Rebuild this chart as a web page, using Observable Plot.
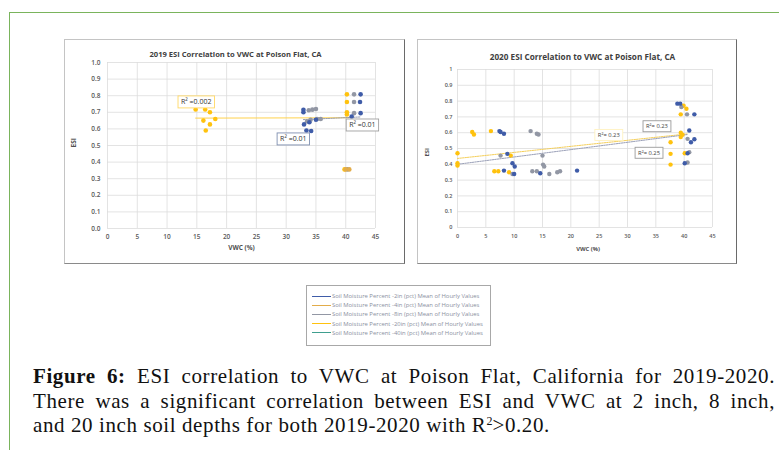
<!DOCTYPE html>
<html>
<head>
<meta charset="utf-8">
<script src="https://cdn.jsdelivr.net/npm/d3@7"></script>
<script src="https://cdn.jsdelivr.net/npm/@observablehq/plot@0.6"></script>
<style>
  html, body { margin: 0; padding: 0; background: #fff; }
  #fig { position: relative; width: 779px; height: 450px; overflow: hidden; background: #fff; }
  #frame { position: absolute; left: 9px; top: 12px; width: 900px; height: 600px;
           border-left: 1.5px solid #7ab45c; border-top: 1.5px solid #7ab45c; }
  .chart { position: absolute; background: #fff; border: 1px solid #c4c4c4;
           border-right: 1.5px solid #6a6a6a; border-bottom: 1.5px solid #8a8a8a; }
  .chart svg { display: block; overflow: visible; }
  #legend { position: absolute; left: 306px; top: 285px; width: 183px; height: 59px;
            border: 1px solid #a8a8a8; background: #fff; font-family: "Open Sans", sans-serif; }
  .lrow { position: absolute; left: 5px; height: 8px; display: flex; align-items: center; }
  .lline { width: 19px; height: 0; border-top: 1.3px solid #000; margin-right: 1px; }
  .ltext { font-size: 5.9px; color: #8a90a0; white-space: nowrap; }
  .cap { position: absolute; left: 33px; width: 742px; font-family: "Liberation Serif", "Times New Roman", serif;
         font-size: 21px; line-height: 20px; letter-spacing: 0.6px; color: #111; white-space: nowrap; }
  .just { text-align: justify; text-align-last: justify; white-space: normal; }
  .cap sup { font-size: 12px; line-height: 0; vertical-align: 7px; letter-spacing: 0; }
</style>
</head>
<body>
<div id="fig">
  <div id="frame"></div>
  <div class="chart" id="c1" style="left:64px; top:39px;"></div>
  <div class="chart" id="c2" style="left:417px; top:39px;"></div>
  <div id="legend"></div>
  <div class="cap just" style="top:366px;"><b>Figure 6:</b> ESI correlation to VWC at Poison Flat, California for 2019-2020.</div>
  <div class="cap just" style="top:390.5px;">There was a significant correlation between ESI and VWC at 2 inch, 8 inch,</div>
  <div class="cap" style="top:415px;">and 20 inch soil depths for both 2019-2020 with R<sup>2</sup>&gt;0.20.</div>
</div>
<script>
// ---------- categories / legend ----------
const seriesNames = ["2in", "4in", "8in", "20in", "40in"];
const seriesColors = ["#3f5ca8", "#e2ac4a", "#9297a4", "#ffc20e", "#3f9f8f"];
const legendLabels = [
  "Soil Moisture Percent -2in (pct) Mean of Hourly Values",
  "Soil Moisture Percent -4in (pct) Mean of Hourly Values",
  "Soil Moisture Percent -8in (pct) Mean of Hourly Values",
  "Soil Moisture Percent -20in (pct) Mean of Hourly Values",
  "Soil Moisture Percent -40in (pct) Mean of Hourly Values"
];

// ---------- ticks ----------
const ticksX = [0, 5, 10, 15, 20, 25, 30, 35, 40, 45];
const ticksY = [0, 0.1, 0.2, 0.3, 0.4, 0.5, 0.6, 0.7, 0.8, 0.9, 1.0];
const tickLabelsY2019 = ["0.0","0.1","0.2","0.3","0.4","0.5","0.6","0.7","0.8","0.9","1.0"];
const tickLabelsY2020 = ["0","0.1","0.2","0.3","0.4","0.5","0.6","0.7","0.8","0.9","1"];

// ---------- 2019 data ----------
const vwc2019_2in  = [32.9, 32.9, 33.0, 33.4, 34.2, 33.9, 35.0, 42.5, 42.4, 42.5, 41.0];
const esi2019_2in  = [0.715, 0.700, 0.627, 0.590, 0.587, 0.640, 0.655, 0.808, 0.762, 0.695, 0.675];
const vwc2019_4in  = [40.0, 40.6];
const esi2019_4in  = [0.356, 0.356];
const vwc2019_8in  = [33.8, 34.4, 35.0, 33.5, 34.1, 35.2, 35.8, 41.4, 41.4, 41.4, 40.3];
const esi2019_8in  = [0.712, 0.716, 0.720, 0.645, 0.655, 0.660, 0.660, 0.808, 0.762, 0.695, 0.356];
const vwc2019_20in = [14.8, 16.4, 17.2, 16.1, 17.2, 18.1, 16.5, 40.2, 40.2, 40.2, 40.2, 39.8];
const esi2019_20in = [0.717, 0.717, 0.700, 0.650, 0.627, 0.660, 0.590, 0.808, 0.762, 0.700, 0.687, 0.356];

// trendline end points 2019
const trend2019_20in_vwc = [14.8, 40.5];
const trend2019_20in_esi = [0.665, 0.667];
const trend2019_2in_vwc  = [32.9, 42.5];
const trend2019_2in_esi  = [0.656, 0.672];

// R² labels 2019
const r2Text2019 = ["R² =0.002", "R² =0.01", "R² =0.01"];
const r2Vwc2019  = [14.9, 31.2, 42.8];
const r2Esi2019  = [0.761, 0.538, 0.622];
const r2Box2019  = ["#ffd966", "#7f8fb0", "#a0a0a0"];

// ---------- 2020 data ----------
const vwc2020_2in  = [7.4, 7.6, 8.2, 8.8, 9.7, 10.1, 8.2, 10.0, 14.6, 21.1, 38.8, 39.3, 41.8, 40.9, 41.8, 40.1, 40.6, 41.2];
const esi2020_2in  = [0.610, 0.604, 0.593, 0.466, 0.407, 0.386, 0.360, 0.339, 0.343, 0.360, 0.784, 0.784, 0.716, 0.614, 0.559, 0.407, 0.470, 0.540];
const vwc2020_8in  = [7.6, 9.7, 12.9, 14.0, 14.3, 15.0, 15.1, 15.3, 13.2, 14.0, 16.2, 17.6, 18.1, 40.5, 40.6, 40.9, 40.6, 39.5];
const esi2020_8in  = [0.455, 0.339, 0.610, 0.593, 0.589, 0.455, 0.398, 0.386, 0.356, 0.356, 0.339, 0.350, 0.356, 0.716, 0.561, 0.477, 0.411, 0.763];
const vwc2020_20in = [0, 0, 0, 2.6, 2.9, 5.9, 6.5, 7.2, 9.1, 9.4, 39.9, 40.4, 39.4, 39.4, 39.4, 37.6, 37.6, 37.6, 40.1, 39.7];
const esi2020_20in = [0.470, 0.407, 0.392, 0.604, 0.589, 0.610, 0.356, 0.356, 0.350, 0.455, 0.771, 0.752, 0.716, 0.600, 0.572, 0.540, 0.466, 0.398, 0.470, 0.587];

// trendline end points 2020
const trend2020_20in_vwc = [0, 40.5];
const trend2020_20in_esi = [0.437, 0.592];
const trend2020_8in_vwc  = [0, 40.5];
const trend2020_8in_esi  = [0.400, 0.588];

// R² labels 2020
const r2Text2020 = ["R²= 0.23", "R²= 0.23", "R²= 0.25"];
const r2Vwc2020  = [26.7, 35.2, 33.8];
const r2Esi2020  = [0.585, 0.640, 0.472];
const r2Box2020  = ["#fff2c0", "#9a9a9a", "#9a9a9a"];

// ---------- helpers ----------
function rows(year, name, xs, ys) { return xs.map((x, i) => ({year, series: name, vwc: x, esi: ys[i]})); }
function line(xs, ys) { return xs.map((x, i) => ({vwc: x, esi: ys[i]})); }
function labels(t, xs, ys) { return t.map((s, i) => ({text: s, vwc: xs[i], esi: ys[i]})); }

const data2019 = [
  ...rows(2019, "20in", vwc2019_20in, esi2019_20in),
  ...rows(2019, "8in", vwc2019_8in, esi2019_8in),
  ...rows(2019, "4in", vwc2019_4in, esi2019_4in),
  ...rows(2019, "2in", vwc2019_2in, esi2019_2in)
];
const data2020 = [
  ...rows(2020, "20in", vwc2020_20in, esi2020_20in),
  ...rows(2020, "8in", vwc2020_8in, esi2020_8in),
  ...rows(2020, "2in", vwc2020_2in, esi2020_2in)
];

function boxLabels(svg, cls, colors) {
  const g = svg.querySelector("g." + cls);
  if (!g) return;
  const texts = g.querySelectorAll("text");
  texts.forEach((t, i) => {
    const b = t.getBBox();
    const r = document.createElementNS("http://www.w3.org/2000/svg", "rect");
    const tr = t.getAttribute("transform");
    if (tr) r.setAttribute("transform", tr);
    r.setAttribute("x", b.x - 3); r.setAttribute("y", b.y - 1.5);
    r.setAttribute("width", b.width + 6); r.setAttribute("height", b.height + 3);
    r.setAttribute("fill", "#fff"); r.setAttribute("stroke", colors[i]); r.setAttribute("stroke-width", 0.9);
    t.parentNode.insertBefore(r, t);
  });
}

const color = {domain: seriesNames, range: seriesColors};

// ---------- chart 1 (2019) ----------
const p1 = Plot.plot({
  width: 339, height: 223,
  marginLeft: 42, marginRight: 29, marginTop: 22, marginBottom: 35,
  x: {domain: [0, 45], ticks: ticksX, tickSize: 0, tickPadding: 6, label: null},
  y: {domain: [0, 1], ticks: ticksY, tickSize: 0, tickPadding: 7, label: null,
      tickFormat: d => tickLabelsY2019[ticksY.indexOf(d)]},
  color,
  style: {fontFamily: "Open Sans, sans-serif", fontSize: "6.5px", fontWeight: 600, color: "#595959", background: "#fff", overflow: "visible"},
  marks: [
    Plot.ruleX(ticksX, {stroke: "#dcdcdc", strokeWidth: 0.8}),
    Plot.ruleY(ticksY, {stroke: "#dcdcdc", strokeWidth: 0.8}),
    Plot.line(line(trend2019_20in_vwc, trend2019_20in_esi), {x: "vwc", y: "esi", stroke: "#ffd24d", strokeWidth: 1}),
    Plot.line(line(trend2019_2in_vwc, trend2019_2in_esi), {x: "vwc", y: "esi", stroke: "#8c93a8", strokeWidth: 0.9, strokeDasharray: "1.5,1"}),
    Plot.dot(data2019, {x: "vwc", y: "esi", fill: "series", r: 2.3}),
    Plot.text(labels(r2Text2019, r2Vwc2019, r2Esi2019), {x: "vwc", y: "esi", text: "text", fontSize: 7, fontWeight: 400, fill: "#333", className: "r2a"}),
    Plot.text(["2019 ESI Correlation to VWC at Poison Flat, CA"], {frameAnchor: "top", dx: -6, dy: -11, fontSize: 7.6, fontWeight: 700, fill: "#404040"}),
    Plot.text(["VWC (%)"], {frameAnchor: "bottom", dy: 21, fontSize: 6.5, fontWeight: 700, fill: "#505050"}),
    Plot.text(["ESI"], {frameAnchor: "left", dx: -34, dy: 2, rotate: -90, fontSize: 6.5, fontWeight: 700, fill: "#505050"})
  ]
});
document.getElementById("c1").appendChild(p1);
boxLabels(p1, "r2a", r2Box2019);

// ---------- chart 2 (2020) ----------
const p2 = Plot.plot({
  width: 318, height: 223,
  marginLeft: 39, marginRight: 24, marginTop: 29, marginBottom: 36,
  x: {domain: [0, 45], ticks: ticksX, tickSize: 0, tickPadding: 7, label: null},
  y: {domain: [0, 1], ticks: ticksY, tickSize: 0, tickPadding: 5, label: null,
      tickFormat: d => tickLabelsY2020[ticksY.indexOf(d)]},
  color,
  style: {fontFamily: "Open Sans, sans-serif", fontSize: "5.5px", fontWeight: 600, color: "#595959", background: "#fff", overflow: "visible"},
  marks: [
    Plot.ruleX(ticksX, {stroke: "#dcdcdc", strokeWidth: 0.8}),
    Plot.ruleY(ticksY, {stroke: "#dcdcdc", strokeWidth: 0.8}),
    Plot.line(line(trend2020_20in_vwc, trend2020_20in_esi), {x: "vwc", y: "esi", stroke: "#f5cf5a", strokeWidth: 1, strokeDasharray: "1.5,1"}),
    Plot.line(line(trend2020_8in_vwc, trend2020_8in_esi), {x: "vwc", y: "esi", stroke: "#9aa0b8", strokeWidth: 1, strokeDasharray: "1.5,1"}),
    Plot.dot(data2020, {x: "vwc", y: "esi", fill: "series", r: 2.2}),
    Plot.text(labels(r2Text2020, r2Vwc2020, r2Esi2020), {x: "vwc", y: "esi", text: "text", fontSize: 5.8, fontWeight: 400, fill: "#444", className: "r2b"}),
    Plot.text(["2020 ESI Correlation to VWC at Poison Flat, CA"], {frameAnchor: "top", dx: -2.5, dy: -15, fontSize: 8.2, fontWeight: 700, fill: "#404040"}),
    Plot.text(["VWC (%)"], {frameAnchor: "bottom", dy: 23, dx: 3, fontSize: 5.8, fontWeight: 700, fill: "#505050"}),
    Plot.text(["ESI"], {frameAnchor: "left", dx: -30, dy: 8, rotate: -90, fontSize: 5.8, fontWeight: 700, fill: "#505050"})
  ]
});
document.getElementById("c2").appendChild(p2);
boxLabels(p2, "r2b", r2Box2020);

// ---------- legend ----------
const legend = document.getElementById("legend");
legendLabels.forEach((lab, i) => {
  const row = document.createElement("div");
  row.className = "lrow";
  row.style.top = (6 + i * 9.2) + "px";
  const ln = document.createElement("div");
  ln.className = "lline";
  ln.style.borderTopColor = seriesColors[i];
  const tx = document.createElement("span");
  tx.className = "ltext";
  tx.textContent = lab;
  row.appendChild(ln); row.appendChild(tx);
  legend.appendChild(row);
});
</script>
</body>
</html>
